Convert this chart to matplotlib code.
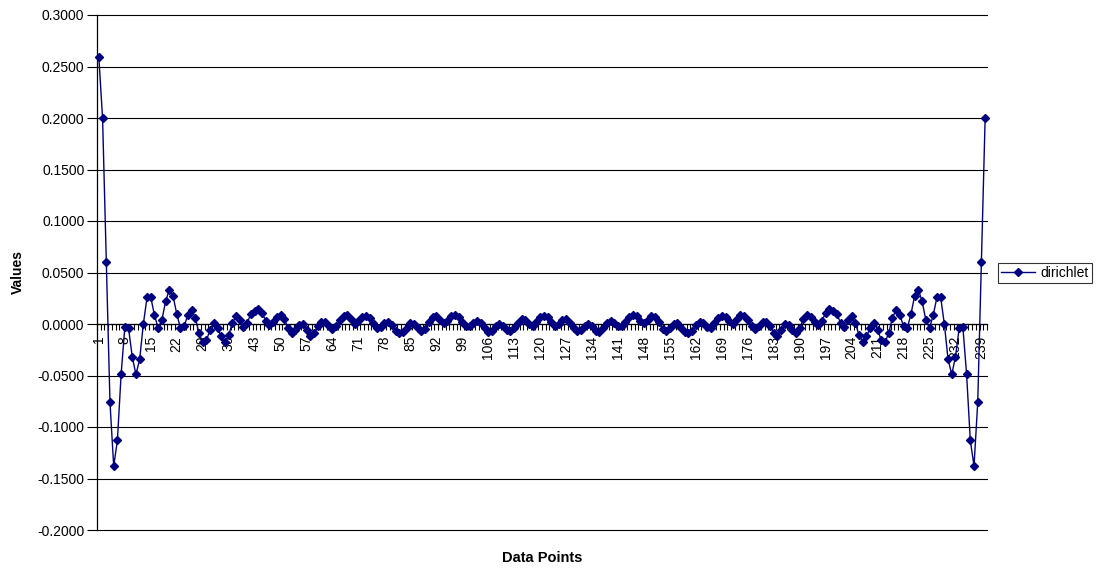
import numpy as np
import matplotlib.pyplot as plt
from matplotlib.ticker import FormatStrFormatter

plt.rcParams['font.family'] = ['Liberation Sans', 'DejaVu Sans']
plt.rcParams['axes.unicode_minus'] = False

# dirichlet samples, points 1..121 (centre of the period is point 1)
left_half = [
    0.2588, 0.2000, 0.0601, -0.0761, -0.1379, -0.1131, -0.0490, -0.0033, -0.0040, -0.0317,
    -0.0490, -0.0343, 0.0000, 0.0260, 0.0260, 0.0085, -0.0040, 0.0040, 0.0220, 0.0333,
    0.0275, 0.0098, -0.0040, -0.0023, 0.0090, 0.0137, 0.0062, -0.0088, -0.0178, -0.0160,
    -0.0055, 0.0010, -0.0040, -0.0120, -0.0170, -0.0110, 0.0010, 0.0074, 0.0040, -0.0030,
    0.0010, 0.0100, 0.0130, 0.0150, 0.0110, 0.0030, -0.0010, 0.0020, 0.0070, 0.0090,
    0.0050, -0.0040, -0.0090, -0.0060, -0.0010, 0.0000, -0.0060, -0.0120, -0.0090, -0.0020,
    0.0020, 0.0020, -0.0020, -0.0050, -0.0020, 0.0040, 0.0080, 0.0090, 0.0050, 0.0000,
    0.0030, 0.0070, 0.0080, 0.0060, 0.0010, -0.0040, -0.0030, 0.0010, 0.0020, -0.0010,
    -0.0070, -0.0090, -0.0080, -0.0040, 0.0010, 0.0000, -0.0040, -0.0070, -0.0050, 0.0020,
    0.0070, 0.0080, 0.0040, 0.0010, 0.0030, 0.0080, 0.0090, 0.0070, 0.0020, -0.0020,
    -0.0020, 0.0010, 0.0030, 0.0010, -0.0040, -0.0080, -0.0070, -0.0020, 0.0000, -0.0020,
    -0.0060, -0.0070, -0.0040, 0.0010, 0.0050, 0.0040, 0.0000, -0.0020, 0.0020, 0.0070,
    0.0080,
]

# points 122..240
right_half = [
    0.0070, 0.0020, -0.0020, 0.0000, 0.0040, 0.0050, 0.0010, -0.0040, -0.0070, -0.0060,
    -0.0020, 0.0000, -0.0020, -0.0070, -0.0080, -0.0040, 0.0010, 0.0030, 0.0010, -0.0020,
    -0.0020, 0.0020, 0.0070, 0.0090, 0.0080, 0.0030, 0.0010, 0.0040, 0.0080, 0.0070,
    0.0020, -0.0050, -0.0070, -0.0040, 0.0000, 0.0010, -0.0040, -0.0080, -0.0090, -0.0070,
    -0.0010, 0.0020, 0.0010, -0.0030, -0.0040, 0.0010, 0.0060, 0.0080, 0.0070, 0.0030,
    0.0000, 0.0050, 0.0090, 0.0080, 0.0040, -0.0020, -0.0050, -0.0020, 0.0020, 0.0020,
    -0.0020, -0.0090, -0.0120, -0.0060, 0.0000, -0.0010, -0.0060, -0.0090, -0.0040, 0.0050,
    0.0090, 0.0070, 0.0020, -0.0010, 0.0030, 0.0110, 0.0150, 0.0130, 0.0100, 0.0010,
    -0.0030, 0.0040, 0.0074, 0.0010, -0.0110, -0.0170, -0.0120, -0.0040, 0.0010, -0.0055,
    -0.0160, -0.0178, -0.0088, 0.0062, 0.0137, 0.0090, -0.0023, -0.0040, 0.0098, 0.0275,
    0.0333, 0.0220, 0.0040, -0.0040, 0.0085, 0.0260, 0.0260, 0.0000, -0.0343, -0.0490,
    -0.0317, -0.0040, -0.0033, -0.0490, -0.1131, -0.1379, -0.0761, 0.0601, 0.2000,
]

values = left_half + right_half
points = np.arange(1, len(values) + 1)
label_points = list(range(1, len(values) + 1, 7))
y_ticks = [-0.2, -0.15, -0.1, -0.05, 0.0, 0.05, 0.1, 0.15, 0.2, 0.25, 0.3]

W, H = 1098, 568
fig = plt.figure(figsize=(W / 100, H / 100), dpi=100)
ax = fig.add_axes([97 / W, 1 - 530 / H, (987 - 97) / W, (530 - 15) / H])

ax.plot(points, values, color='#000080', lw=1.0, marker='D', ms=3.8,
        label='dirichlet', clip_on=False, zorder=3)

ax.set_xlim(0.5, len(values) + 0.5)
ax.set_ylim(-0.2, 0.3)
ax.set_yticks(y_ticks)
ax.yaxis.set_major_formatter(FormatStrFormatter('%.4f'))
ax.tick_params(axis='y', length=7, width=0.8, labelsize=10, pad=2)
ax.grid(axis='y', color='black', lw=0.8)
for gl in ax.yaxis.get_gridlines():
    gl.set_clip_on(False)
ax.set_axisbelow(True)

ax.spines['top'].set_visible(False)
ax.spines['right'].set_visible(False)
ax.spines['left'].set_linewidth(0.9)
ax.spines['bottom'].set_position(('data', 0))
ax.spines['bottom'].set_linewidth(0.9)
ax.spines['bottom'].set_zorder(2)

# category labels every 7th point, tick marks between categories
ax.set_xticks(label_points)
ax.set_xticklabels([str(p) for p in label_points], rotation=90, fontsize=10)
ax.set_xticks(np.arange(0.5, len(values) + 1, 1), minor=True)
ax.tick_params(axis='x', which='major', length=0, pad=8.5)
ax.tick_params(axis='x', which='minor', length=4, width=0.8, direction='out')

fig.text(18 / W, 1 - 272 / H, 'Values', rotation=90, fontsize=10,
         fontweight='bold', ha='center', va='center')
fig.text(542 / W, 1 - 558 / H, 'Data Points', fontsize=10.5,
         fontweight='bold', ha='center', va='center')

leg = fig.legend(loc='center left', bbox_to_anchor=(998 / W, 1 - 273 / H),
                 fontsize=10, frameon=True, fancybox=False, handlelength=2.4,
                 borderpad=0.25, handletextpad=0.4, borderaxespad=0)
leg.get_frame().set_edgecolor('black')
leg.get_frame().set_linewidth(0.8)

fig.savefig('out.png', dpi=100)
